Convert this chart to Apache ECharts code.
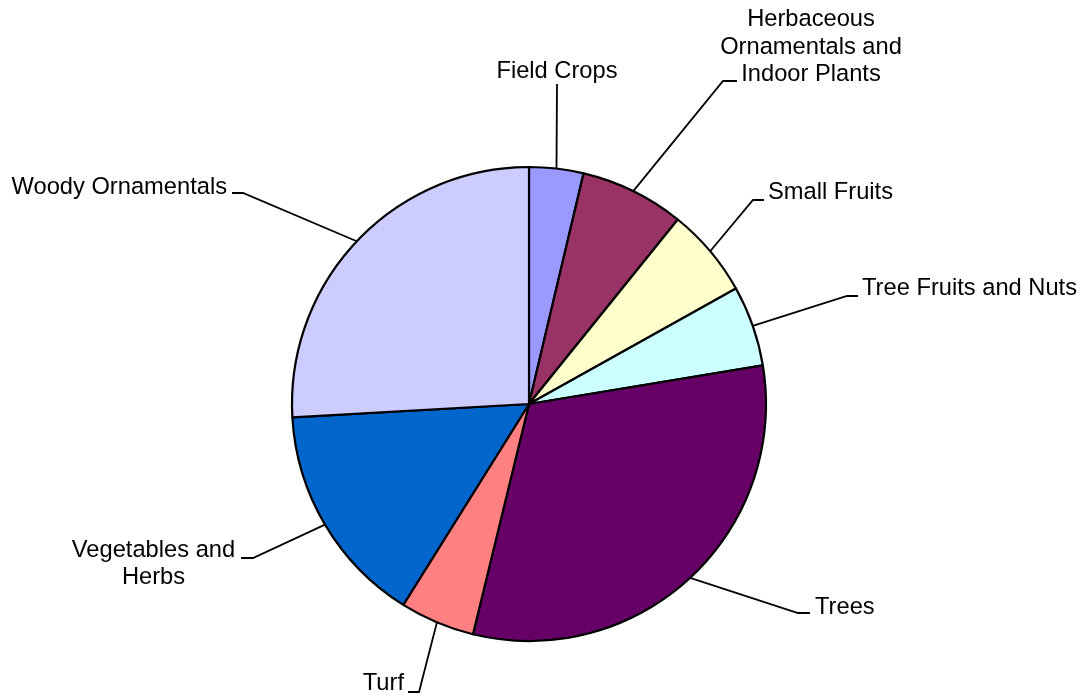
<!DOCTYPE html>
<html>
<head>
<meta charset="utf-8">
<script src="https://cdn.jsdelivr.net/npm/echarts@6/dist/echarts.min.js"></script>
<style>
  html, body { margin: 0; padding: 0; background: #ffffff; }
  #chart { width: 1085px; height: 697px; }
</style>
</head>
<body>
<div id="chart"></div>
<script>
// Slices, clockwise from twelve o'clock
const categories = [
  'Field Crops',
  'Herbaceous\nOrnamentals and\nIndoor Plants',
  'Small Fruits',
  'Tree Fruits and Nuts',
  'Trees',
  'Turf',
  'Vegetables and\nHerbs',
  'Woody Ornamentals'
];
const shares = [3.7, 7.1, 6.1, 5.5, 31.4, 5.1, 15.2, 25.9];
const sliceColors = ['#9999FF', '#993366', '#FFFFCC', '#CCFFFF', '#660066', '#FF8080', '#0066CC', '#CCCCFF'];

// Label anchor (text centre line), alignment and the short horizontal stub of each leader line.
// The leader line starts on the slice edge computed by the pie layout.
const labelPlacement = [
  { x: 557, y: 71,    align: 'center', stub: [[557, 84]] },
  { x: 811, y: 47,    align: 'center', stub: [[723, 81], [737, 81]] },
  { x: 768, y: 192.5, align: 'left',   stub: [[753, 200], [764, 200]] },
  { x: 862, y: 288.5, align: 'left',   stub: [[847, 296], [858, 296]] },
  { x: 815, y: 607,   align: 'left',   stub: [[798, 613], [810, 613]] },
  { x: 404, y: 683,   align: 'right',  stub: [[419, 692], [408, 692]] },
  { x: 153.5, y: 564, align: 'center', stub: [[253, 558], [241, 558]] },
  { x: 227, y: 187,   align: 'right',  stub: [[243, 193], [232, 193]] }
];

const pieData = categories.map((name, i) => ({
  name: name,
  value: shares[i],
  itemStyle: { color: sliceColors[i] }
}));

const chart = echarts.init(document.getElementById('chart'), null, { renderer: 'canvas' });
chart.setOption({
  backgroundColor: '#ffffff',
  animation: false,
  series: [{
    type: 'pie',
    center: [529, 404],
    radius: 237,
    startAngle: 90,
    clockwise: true,
    avoidLabelOverlap: false,
    silent: true,
    itemStyle: { borderColor: '#000000', borderWidth: 2.2 },
    label: {
      show: true,
      position: 'outside',
      formatter: '{b}',
      color: '#000000',
      fontFamily: '"Liberation Sans", Arial, sans-serif',
      fontSize: 23.7,
      lineHeight: 27.5,
      overflow: 'none'
    },
    labelLine: {
      show: true,
      length: 20,
      length2: 12,
      lineStyle: { color: '#000000', width: 1.8 }
    },
    labelLayout: function (params) {
      const place = labelPlacement[params.dataIndex];
      const edge = params.labelLinePoints[0];
      return {
        x: place.x,
        y: place.y,
        align: place.align,
        verticalAlign: 'middle',
        labelLinePoints: [[edge[0], edge[1]]].concat(place.stub.map(p => [p[0], p[1]]))
      };
    },
    emphasis: { disabled: true },
    data: pieData
  }]
});
</script>
</body>
</html>
